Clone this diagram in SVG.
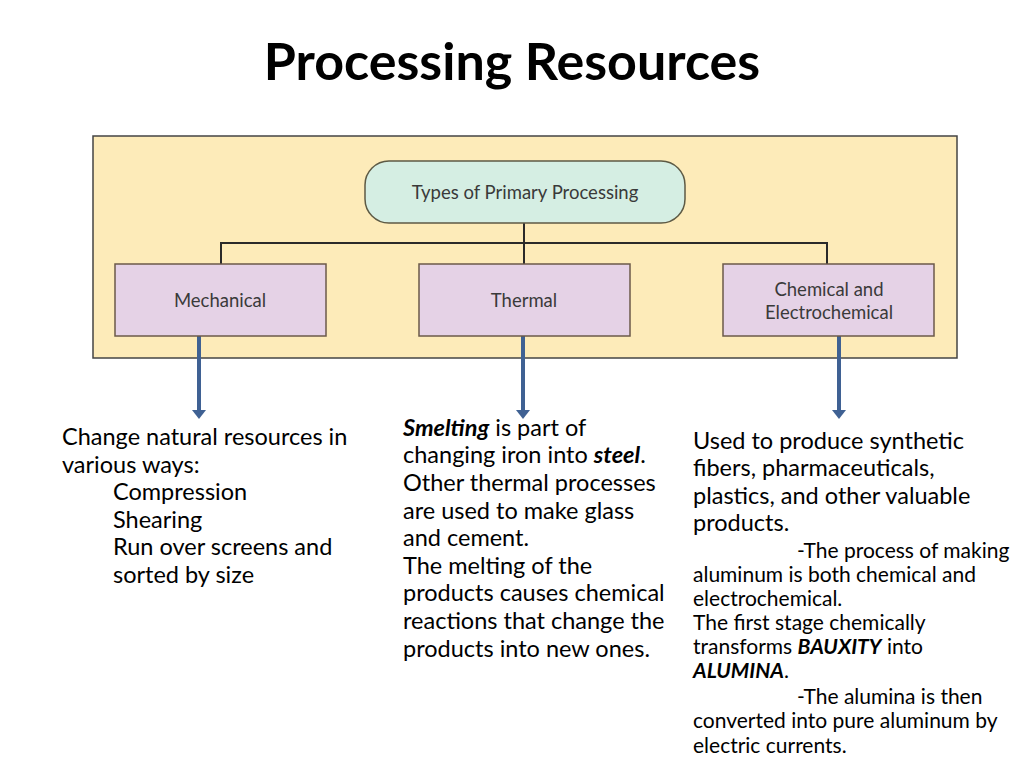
<svg xmlns="http://www.w3.org/2000/svg" width="1024" height="768" viewBox="0 0 1024 768">
<defs>
<marker id="ah" markerWidth="12" markerHeight="10" refX="6" refY="1" orient="auto-start-reverse" markerUnits="userSpaceOnUse" viewBox="0 0 12 10">
<path d="M0,0 L12,0 L6,8 z" fill="#3f6193"/>
</marker>
<style>
.t{font-family:Lato,"Liberation Sans",sans-serif;font-size:23.5px;fill:#000}
.s{font-family:Lato,"Liberation Sans",sans-serif;font-size:21px;fill:#000}
.lbl{font-family:Lato,"Liberation Sans",sans-serif;font-size:18.5px;fill:#3a3a3a;text-anchor:middle}
.box{fill:#e5d2e6;stroke:#6b5a4a;stroke-width:1.5}
.line{stroke:#2a2a2a;stroke-width:2;fill:none}
.arrow{stroke:#3f6193;stroke-width:4;fill:none}
</style>
</defs>
<rect width="1024" height="768" fill="#fff"/>
<text x="512" y="80" text-anchor="middle" style="font-family:Lato,'Liberation Sans',sans-serif;font-size:52px;font-weight:bold">Processing Resources</text>
<rect x="93" y="136" width="864" height="222" fill="#fdebb9" stroke="#444" stroke-width="1.5"/>
<g id="connectors">
<path class="line" d="M524,223 V243 M221,264 V243 H827 V264 M524,243 V264"/>
<path d="M199,332 V412" class="arrow"/>
<path d="M192,410 H206 L199,419 z" fill="#3f6193"/>
<path d="M523,332 V412" class="arrow"/>
<path d="M516,410 H530 L523,419 z" fill="#3f6193"/>
<path d="M839,332 V412" class="arrow"/>
<path d="M832,410 H846 L839,419 z" fill="#3f6193"/>
</g>
<g id="n-types">
<rect x="365" y="161" width="320" height="62" rx="24" fill="#d5eee3" stroke="#5d5a45" stroke-width="1.5"/>
<text class="lbl" x="525" y="199">Types of Primary Processing</text>
</g>
<g id="n-mech">
<rect class="box" x="115" y="264" width="211" height="72"/>
<text class="lbl" x="220" y="307">Mechanical</text>
</g>
<g id="n-therm">
<rect class="box" x="419" y="264" width="211" height="72"/>
<text class="lbl" x="524" y="307">Thermal</text>
</g>
<g id="n-chem">
<rect class="box" x="723" y="264" width="211" height="72"/>
<text class="lbl" x="829" y="296">Chemical and</text>
<text class="lbl" x="829" y="319">Electrochemical</text>
</g>
<g id="txt-mech">
<text class="t" x="62" y="445">Change natural resources in</text>
<text class="t" x="62" y="473">various ways:</text>
<text class="t" x="113" y="500">Compression</text>
<text class="t" x="113" y="528">Shearing</text>
<text class="t" x="113" y="555">Run over screens and</text>
<text class="t" x="113" y="583">sorted by size</text>
</g>
<g id="txt-therm">
<text class="t" x="403" y="436"><tspan font-weight="bold" font-style="italic">Smelting</tspan> is part of</text>
<text class="t" x="403" y="463">changing iron into <tspan font-weight="bold" font-style="italic">steel</tspan>.</text>
<text class="t" x="403" y="491">Other thermal processes</text>
<text class="t" x="403" y="519">are used to make glass</text>
<text class="t" x="403" y="546">and cement.</text>
<text class="t" x="403" y="574">The melting of the</text>
<text class="t" x="403" y="601">products causes chemical</text>
<text class="t" x="403" y="629">reactions that change the</text>
<text class="t" x="403" y="657">products into new ones.</text>
</g>
<g id="txt-chem">
<text class="t" x="693" y="449">Used to produce synthetic</text>
<text class="t" x="693" y="476">fibers, pharmaceuticals,</text>
<text class="t" x="693" y="504">plastics, and other valuable</text>
<text class="t" x="693" y="531">products.</text>
<text class="s" x="797" y="558">-The process of making</text>
<text class="s" x="693" y="582">aluminum is both chemical and</text>
<text class="s" x="693" y="606">electrochemical.</text>
<text class="s" x="693" y="630">The first stage chemically</text>
<text class="s" x="693" y="654">transforms <tspan font-weight="bold" font-style="italic">BAUXITY</tspan> into</text>
<text class="s" x="693" y="678"><tspan font-weight="bold" font-style="italic">ALUMINA</tspan>.</text>
<text class="s" x="797" y="704">-The alumina is then</text>
<text class="s" x="693" y="728">converted into pure aluminum by</text>
<text class="s" x="693" y="753">electric currents.</text>
</g>
</svg>
